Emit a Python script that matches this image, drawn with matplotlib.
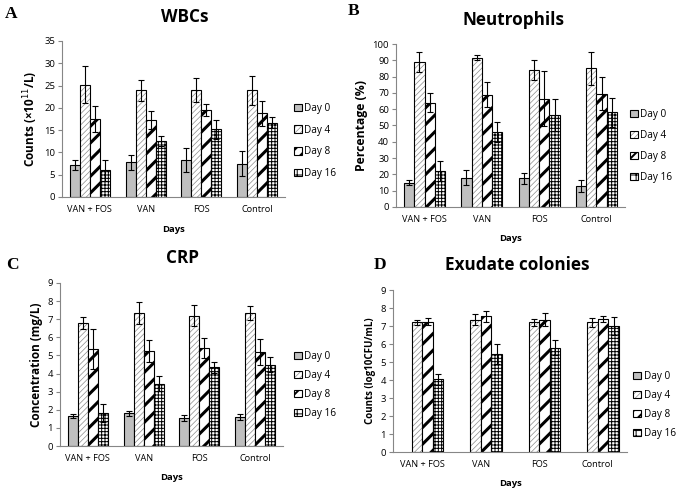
import numpy as np
import matplotlib
matplotlib.use("Agg")
import matplotlib.pyplot as plt

# groupes et jours
groupes = ["VAN + FOS", "VAN", "FOS", "Control"]
jours = ["Day 0", "Day 4", "Day 8", "Day 16"]

# A - WBCs (x10^11/L), une liste par jour
wbc_moy = [[7.2, 7.8, 8.3, 7.5],
           [25.2, 23.9, 24.1, 23.9],
           [17.5, 17.3, 19.5, 18.8],
           [6.0, 12.6, 15.2, 16.7]]
wbc_err = [[1.1, 1.7, 2.7, 2.9],
           [4.1, 2.4, 2.7, 3.2],
           [3.0, 2.1, 1.4, 2.8],
           [2.3, 1.1, 2.1, 1.3]]

# B - Neutrophiles (%)
neu_moy = [[15, 18, 17.5, 13],
           [89, 91.5, 84, 85],
           [64, 69, 66.5, 69.5],
           [22, 46, 56.5, 58]]
neu_err = [[1.5, 4.5, 3.5, 3.5],
           [6, 1.5, 6, 10],
           [6, 7.5, 17, 10],
           [6, 6, 10, 9]]

# C - CRP (mg/L)
crp_moy = [[1.65, 1.8, 1.55, 1.6],
           [6.8, 7.35, 7.2, 7.35],
           [5.35, 5.25, 5.4, 5.2],
           [1.8, 3.45, 4.35, 4.5]]
crp_err = [[0.1, 0.12, 0.15, 0.15],
           [0.35, 0.6, 0.6, 0.4],
           [1.1, 0.6, 0.55, 0.7],
           [0.5, 0.4, 0.3, 0.4]]

# D - Colonies exsudat (log10 CFU/mL), jour 0 = pas de valeur
exu_moy = [[0, 0, 0, 0],
           [7.2, 7.35, 7.2, 7.2],
           [7.25, 7.55, 7.35, 7.4],
           [4.05, 5.45, 5.8, 7.0]]
exu_err = [[0, 0, 0, 0],
           [0.15, 0.3, 0.2, 0.25],
           [0.2, 0.3, 0.35, 0.15],
           [0.3, 0.55, 0.4, 0.5]]

W, H = 688, 493
fig = plt.figure(figsize=(W / 100, H / 100), dpi=100)
plt.rcParams['font.family'] = ['Open Sans', 'DejaVu Sans']

gris_axe = "#868686"
# style des barres : couleur, hachure, couleur hachure, epaisseur hachure, hachure legende
styles = [("#bfbfbf", None, "black", 1.0, None),
          ("white", "//////", "#8c8c8c", 0.5, "//////"),
          ("white", "//", "black", 2.2, "///"),
          ("white", "+++++", "black", 0.7, "+++")]


def px_axes(gauche, droite, haut, bas):
    """convertit des pixels en position de figure"""
    return [gauche / W, 1 - bas / H, (droite - gauche) / W, (bas - haut) / H]


def regler_hatch_lw(p, lw):
    if hasattr(p, "set_hatch_linewidth"):
        p.set_hatch_linewidth(lw)
    else:
        p._hatch_linewidth = lw


def panneau(pos, moy, err, ymax, ystep, ylabel, ylab_fs, titre, titre_xy, lettre, lettre_xy,
            days_y, leg_x, leg_y, leg_esp, sauter_zero=False):
    ax = fig.add_axes(px_axes(*pos))
    x = np.arange(len(groupes))
    larg = 0.18
    for j in range(len(jours)):
        couleur, hatch, hcol, hlw, _ = styles[j]
        pos_x = x + (j - 1.5) * larg
        plt.rcParams['hatch.linewidth'] = hlw
        plt.rcParams['hatch.color'] = hcol
        # petit patch pour la légende
        ax.bar([np.nan], [np.nan], larg, color=couleur, edgecolor="black",
               lw=0.8, label=jours[j])
        if sauter_zero and j == 0:
            continue
        # remplissage hachuré puis contour noir
        barres = ax.bar(pos_x, moy[j], larg, color=couleur, hatch=hatch, edgecolor=hcol, lw=0)
        for b in barres:
            regler_hatch_lw(b, hlw)
        ax.bar(pos_x, moy[j], larg, fill=False, edgecolor="black", lw=0.8)
        ax.errorbar(pos_x, moy[j], yerr=err[j], fmt="none", ecolor="black",
                    elinewidth=0.8, capsize=2.5, capthick=0.8)
    ax.set_xlim(-0.5, len(groupes) - 0.5)
    ax.set_ylim(0, ymax)
    ax.set_yticks(np.arange(0, ymax + ystep / 2, ystep))
    ax.set_xticks(x)
    ax.set_xticklabels(groupes, fontsize=6.6)
    ax.tick_params(axis="y", labelsize=6.8, length=3, width=0.8, color=gris_axe, pad=2)
    ax.tick_params(axis="x", length=0, pad=6)
    for s in ["top", "right"]:
        ax.spines[s].set_visible(False)
    for s in ["left", "bottom"]:
        ax.spines[s].set_color(gris_axe)
        ax.spines[s].set_linewidth(0.8)
    ax.set_ylabel(ylabel, fontsize=ylab_fs, fontweight="bold", labelpad=3)
    fig.text(titre_xy[0] / W, 1 - titre_xy[1] / H, titre, fontsize=12.3, fontweight="bold",
             ha="center", va="center")
    fig.text(lettre_xy[0] / W, 1 - lettre_xy[1] / H, lettre, fontsize=12.5, fontweight="bold",
             family="Liberation Serif", ha="left", va="center")
    fig.text((pos[0] + pos[1]) / 2 / W, 1 - days_y / H, "Days", fontsize=6.8, fontweight="bold",
             ha="center", va="center")
    leg = ax.legend(loc="center left", bbox_to_anchor=(leg_x / W, 1 - leg_y / H),
                    bbox_transform=fig.transFigure, frameon=False, fontsize=7.2,
                    handlelength=0.75, handleheight=0.75, handletextpad=0.3,
                    labelspacing=leg_esp, borderpad=0, borderaxespad=0)
    # hachures des patchs de la légende
    for p, st in zip(leg.get_patches(), styles):
        if st[4] is not None:
            p.set_hatch(st[4])
            p._hatch_color = matplotlib.colors.to_rgba(st[2])
            regler_hatch_lw(p, min(st[3], 1.4))
    return ax


panneau((62, 285, 41, 197), wbc_moy, wbc_err, 35, 5, r"Counts (×10$^{11}$/L)", 8.5,
        "WBCs", (185, 17), "A", (5, 14), 230, 294, 141, 1.08)
panneau((396, 625, 44, 207), neu_moy, neu_err, 100, 10, "Percentage (%)", 8.8,
        "Neutrophils", (514, 20), "B", (348, 11), 238, 630, 146, 0.98)
panneau((60, 283, 283, 446), crp_moy, crp_err, 9, 1, "Concentration (mg/L)", 8.5,
        "CRP", (182, 258), "C", (6, 265), 478, 294, 385, 0.8)
panneau((393, 627, 290, 452), exu_moy, exu_err, 9, 1, "Counts (log10CFU/mL)", 7,
        "Exudate colonies", (517, 265), "D", (374, 265), 483, 633, 405, 0.82,
        sauter_zero=True)

fig.savefig("out.png", dpi=100)
